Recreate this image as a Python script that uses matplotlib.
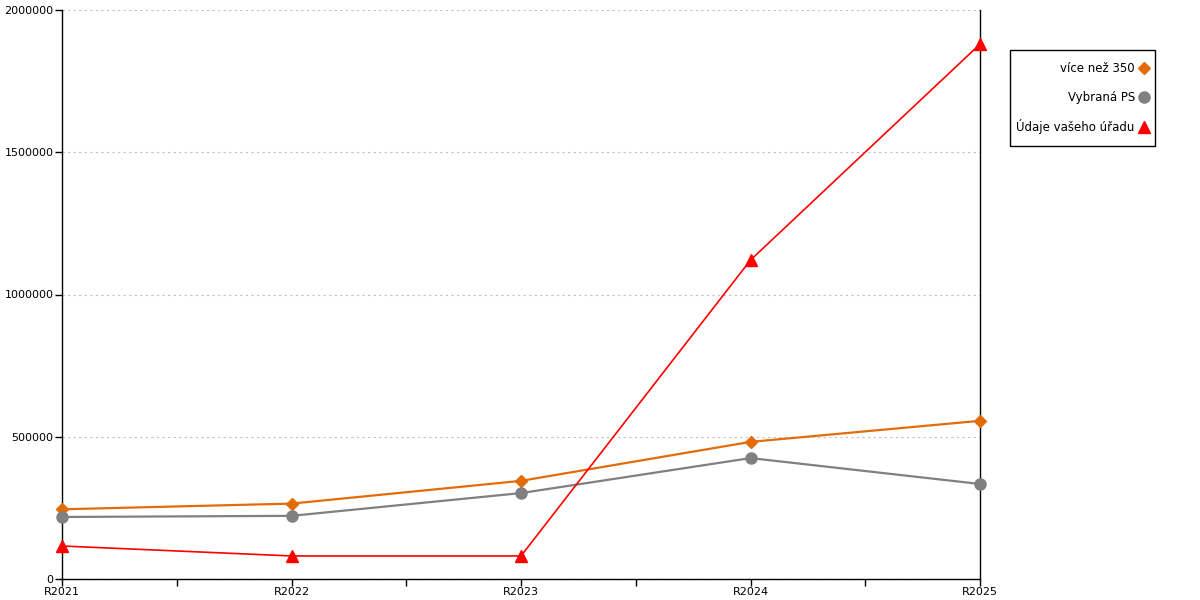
import matplotlib
matplotlib.use("Agg")
import matplotlib.pyplot as plt
from matplotlib.patches import Rectangle
from matplotlib.ticker import MultipleLocator, FixedLocator

# data
years = ["R2021", "R2022", "R2023", "R2024", "R2025"]
vice_nez_350 = [245000, 265000, 345000, 482000, 556000]
vybrana_ps = [218000, 222000, 302000, 425000, 334000]
udaje_uradu = [116000, 81000, 81000, 1121000, 1880000]

plt.rcParams['font.family'] = ['DejaVu Sans']

fig = plt.figure(figsize=(12, 6), dpi=100)
ax = fig.add_axes([62 / 1200, 1 - 579 / 600, (980 - 62) / 1200, (579 - 10) / 600])

x = list(range(len(years)))
ax.plot(x, vice_nez_350, color="#E36C0A", lw=1.6, marker="D", ms=6,
        label="více než 350", zorder=3, clip_on=False)
ax.plot(x, vybrana_ps, color="#808080", lw=1.6, marker="o", ms=8,
        label="Vybraná PS", zorder=3, clip_on=False)
ax.plot(x, udaje_uradu, color="#FF0000", lw=1.2, marker="^", ms=9,
        label="Údaje vašeho úřadu", zorder=3, clip_on=False)

ax.set_xlim(0, len(years) - 1)
ax.set_ylim(0, 2000000)
ax.set_xticks(x)
ax.set_xticklabels(years)
ax.xaxis.set_minor_locator(FixedLocator([i + 0.5 for i in x[:-1]]))
ax.yaxis.set_major_locator(MultipleLocator(500000))
ax.ticklabel_format(axis="y", style="plain")

ax.grid(axis="y", color="#c0c0c0", ls=(0, (2, 3)), lw=0.8)
ax.set_axisbelow(True)

ax.spines["top"].set_visible(False)
for s in ["left", "right", "bottom"]:
    ax.spines[s].set_linewidth(1.0)
ax.tick_params(axis="both", which="both", direction="out", labelsize=8, width=1.0)
ax.tick_params(axis="x", which="major", length=5, pad=1)
ax.tick_params(axis="x", which="minor", length=5)
ax.tick_params(axis="y", length=5, pad=1)

# legend box drawn separately so its padding can match the original
fig.patches.append(Rectangle((1010 / 1200, 1 - 146 / 600), 145 / 1200, 96 / 600,
                             transform=fig.transFigure, fill=False,
                             edgecolor="black", lw=1.0))
leg = ax.legend(loc="upper left", bbox_to_anchor=(1010 / 1200, 1 - 56 / 600),
                bbox_transform=fig.transFigure, markerfirst=False, frameon=False,
                fontsize=8.5, handlelength=0.8, labelspacing=1.3,
                borderpad=0.55, handletextpad=0.4, borderaxespad=0)
for h in leg.legend_handles:
    h.set_linestyle("none")

fig.savefig("out.png", dpi=100)
